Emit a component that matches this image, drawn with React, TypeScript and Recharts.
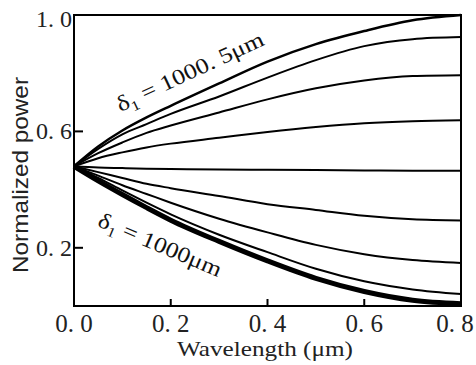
import { LineChart, Line, XAxis, YAxis, ReferenceArea } from 'recharts'

// wavelength samples (µm)
const WAVELENGTH = [0, 0.05, 0.1, 0.15, 0.2, 0.3, 0.4, 0.5, 0.6, 0.7, 0.8]

// normalized power, top curve (δ1 = 1000.5 µm) down to bottom curve (δ1 = 1000 µm)
const P1 = [0.48, 0.548, 0.603, 0.648, 0.688, 0.765, 0.84, 0.9, 0.945, 0.982, 1.0]
const P2 = [0.48, 0.54, 0.59, 0.625, 0.66, 0.72, 0.785, 0.845, 0.893, 0.917, 0.924]
const P3 = [0.48, 0.525, 0.562, 0.595, 0.62, 0.665, 0.71, 0.748, 0.775, 0.79, 0.793]
const P4 = [0.48, 0.508, 0.528, 0.545, 0.558, 0.578, 0.598, 0.615, 0.628, 0.635, 0.638]
const P5 = [0.48, 0.476, 0.474, 0.472, 0.471, 0.469, 0.468, 0.467, 0.466, 0.465, 0.465]
const P6 = [0.48, 0.46, 0.44, 0.42, 0.405, 0.378, 0.35, 0.33, 0.31, 0.298, 0.294]
const P7 = [0.48, 0.448, 0.415, 0.385, 0.355, 0.3, 0.253, 0.21, 0.178, 0.158, 0.148]
const P8 = [0.48, 0.44, 0.397, 0.355, 0.315, 0.245, 0.185, 0.128, 0.085, 0.057, 0.041]
const P9 = [0.48, 0.43, 0.383, 0.338, 0.295, 0.222, 0.155, 0.095, 0.05, 0.02, 0.008]

const SERIES = [P1, P2, P3, P4, P5, P6, P7, P8, P9]
const WIDTHS = [2.5, 2, 2, 2, 2, 2, 2, 2, 5]

const X_TICKS = [0, 0.2, 0.4, 0.6, 0.8]
const Y_TICKS = [0.2, 0.6, 1.0]

const rows = WAVELENGTH.map((w, i) => {
  const row: Record<string, number> = { w }
  SERIES.forEach((s, k) => {
    row['p' + k] = s[i]
  })
  return row
})

const fmt = (v: number) => v.toFixed(1).replace('.', '. ')
const SERIF = { fontFamily: "'Times New Roman', 'Liberation Serif', serif" }
const SANS = { fontFamily: "Arial, 'Liberation Sans', sans-serif" }

function XTick({ x, y, payload }: any) {
  const v = payload.value
  const axisY = y - 3
  return (
    <g>
      {v > 0 && v < 0.8 && (
        <line x1={x} x2={x} y1={axisY} y2={axisY - 7} stroke="#000" strokeWidth={2} />
      )}
      <text x={v >= 0.8 ? x - 6 : x} y={axisY + 26} textAnchor="middle" style={SERIF} fontSize={25} fill="#222">
        {fmt(v)}
      </text>
    </g>
  )
}

function YTick({ x, y, payload }: any) {
  const v = payload.value
  const axisX = x + 2
  return (
    <g>
      {v < 1 && <line x1={axisX} x2={axisX + 9} y1={y} y2={y} stroke="#000" strokeWidth={2} />}
      <text x={x} y={(v >= 1 ? y + 4 : y) + 8} textAnchor="end" style={SERIF} fontSize={24} fill="#222">
        {fmt(v)}
      </text>
    </g>
  )
}

export default function App() {
  return (
    <div style={{ position: 'absolute', left: 0, top: 0, background: '#fff' }}>
      <LineChart width={476} height={365} data={rows} margin={{ top: 15, right: 15, bottom: 0, left: 14 }}>
        <XAxis
          dataKey="w"
          type="number"
          domain={[0, 0.8]}
          ticks={X_TICKS}
          tick={<XTick />}
          tickSize={0}
          tickMargin={3}
          axisLine={false}
          height={59}
          interval={0}
        />
        <YAxis
          type="number"
          domain={[0, 1]}
          ticks={Y_TICKS}
          tick={<YTick />}
          tickSize={0}
          tickMargin={2}
          axisLine={false}
          width={60}
          interval={0}
        />
        {SERIES.map((_, k) => (
          <Line
            key={k}
            dataKey={'p' + k}
            type="monotone"
            stroke="#000"
            strokeWidth={WIDTHS[k]}
            dot={false}
            isAnimationActive={false}
          />
        ))}
        <ReferenceArea x1={0} x2={0.8} y1={0} y2={1} fill="none" stroke="#000" strokeWidth={2} ifOverflow="visible" />
        <text
          transform="rotate(-25 190 72)"
          x={190}
          y={79}
          textAnchor="middle"
          style={SERIF}
          fontSize={22}
          fill="#111"
          textLength={160}
          lengthAdjust="spacingAndGlyphs"
        >
          δ<tspan fontSize={14} dy={5}>1</tspan><tspan dy={-5}> = 1000. 5μm</tspan>
        </text>
        <text
          transform="rotate(23 160 245)"
          x={160}
          y={252}
          textAnchor="middle"
          style={SERIF}
          fontSize={22}
          fill="#111"
          textLength={132}
          lengthAdjust="spacingAndGlyphs"
        >
          δ<tspan fontSize={14} dy={5}>1</tspan><tspan dy={-5}> = 1000μm</tspan>
        </text>
        <text
          transform="rotate(-90 21 175)"
          x={21}
          y={182}
          textAnchor="middle"
          style={SANS}
          fontSize={22}
          fill="#222"
          textLength={196}
          lengthAdjust="spacingAndGlyphs"
        >
          Normalized power
        </text>
        <text
          x={265}
          y={356}
          textAnchor="middle"
          style={SERIF}
          fontSize={22}
          fill="#222"
          textLength={176}
          lengthAdjust="spacingAndGlyphs"
        >
          Wavelength (μm)
        </text>
      </LineChart>
    </div>
  )
}
